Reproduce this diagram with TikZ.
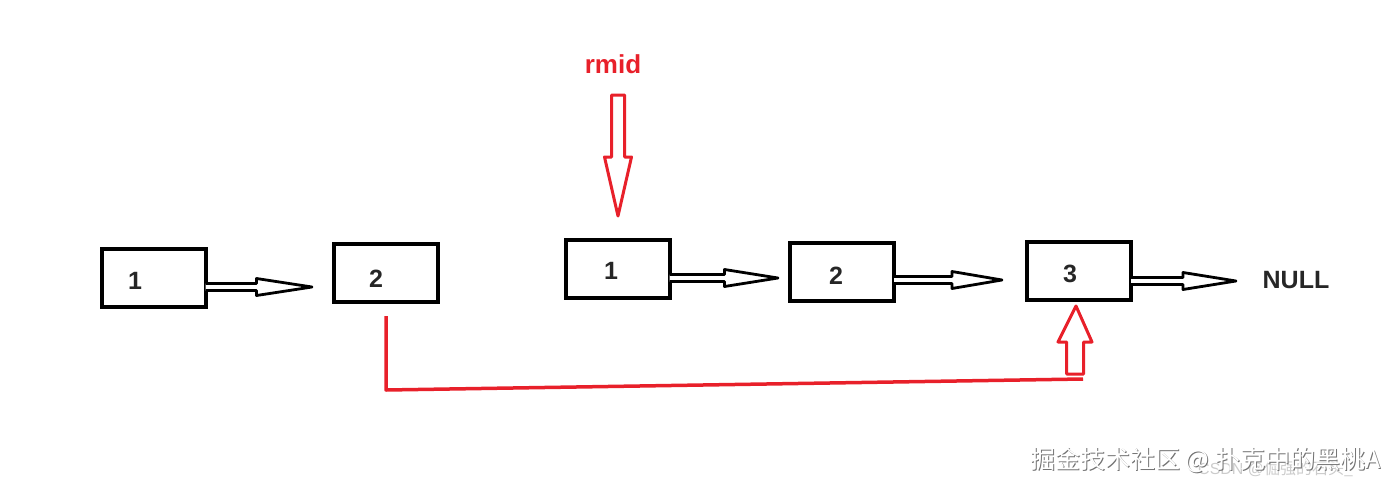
\documentclass[tikz,border=0pt]{standalone}
\usepackage{fontspec}
\setmainfont{Liberation Sans}
\newfontfamily\cjk{Noto Sans CJK SC}
\usetikzlibrary{calc}
\definecolor{myred}{HTML}{E8202A}
\newcommand\harrow[3]{\draw[hol] ($(#1)+(0,-3.5)$) -- ($(#1)+(#2,-3.5)$) -- ($(#1)+(#2,-8.5)$) -- (#3) -- ($(#1)+(#2,8.5)$) -- ($(#1)+(#2,3.5)$) -- ($(#1)+(0,3.5)$);}
\begin{document}
\begin{tikzpicture}[x=1pt,y=-1pt,
 box/.style={draw, line width=4pt, minimum width=104pt, minimum height=58pt, inner sep=0pt, outer sep=0pt},
 num/.style={font=\bfseries\fontsize{25}{27}\selectfont, inner sep=0pt, text=black!85},
 hol/.style={draw, line width=2.8pt, line join=round, fill=white},
 redhol/.style={draw=myred, line width=3pt, line join=round, fill=white},
 redline/.style={draw=myred, line width=3.5pt, line join=round}]
\path[use as bounding box] (0,0) rectangle (1398,490);

% boxes
\node[box] (a1) at (153.5,277.5) {};
\node[box] (a2) at (386,273) {};
\node[box] (b1) at (617.5,269) {};
\node[box] (b2) at (842,271.5) {};
\node[box] (b3) at (1079,271) {};

% numbers
\node[num] (n1) at (135,281) {1};
\node[num] (n2) at (376,279) {2};
\node[num] (n3) at (611,271) {1};
\node[num] (n4) at (836,276) {2};
\node[num] (n5) at (1070,274) {3};
\node[font=\bfseries\fontsize{25}{27}\selectfont, text=black!85, inner sep=0pt] (null) at (1296,280) {NULL};

% hollow black arrows
\coordinate (s1) at (a1.east |- 0,287);
\coordinate (t1) at (312,287);
\harrow{s1}{51}{t1}
\coordinate (s2) at (b1.east |- 0,278);
\coordinate (t2) at (778,278);
\harrow{s2}{55}{t2}
\coordinate (s3) at (b2.east |- 0,280);
\coordinate (t3) at (1002,280);
\harrow{s3}{58}{t3}
\coordinate (s4) at (b3.east |- 0,281);
\coordinate (t4) at (1236,281);
\harrow{s4}{52}{t4}

% rmid
\node[font=\bfseries\fontsize{26}{28}\selectfont, text=myred, inner sep=0pt] (rm) at (613,64) {rmid};
\coordinate (rs) at (618,95);
\coordinate (rt) at (618,216);
\draw[redhol] ($(rs)+(-6.5,0)$) -- ($(rs)+(6.5,0)$) -- ($(rs)+(6.5,62)$) -- ($(rs)+(13.5,62)$) -- (rt) -- ($(rs)+(-13.5,62)$) -- ($(rs)+(-6.5,62)$) -- cycle;

% red connector from a2 to b3
\coordinate (ls) at ($(a2.south)+(0,14)$);
\coordinate (us) at (1075,374);
\coordinate (ut) at (1076,306);
\draw[redline] (ls) -- (386,390) -- (1083,379);
\draw[redhol] ($(us)+(-8.5,0)$) -- ($(us)+(8.5,0)$) -- ($(us)+(8.5,-32)$) -- ($(us)+(17,-32)$) -- (ut) -- ($(us)+(-17,-32)$) -- ($(us)+(-8.5,-32)$) -- cycle;

% watermark
\node[anchor=west, inner sep=0pt, text=black!20, font=\fontsize{16}{18}\selectfont] (wm2) at (1198,469) {CSDN @\cjk 倔强的石头\_};
\node[anchor=west, inner sep=0pt, text=black!55, font=\cjk\fontsize{25}{27}\selectfont] (wm1s) at (1031,461) {掘金技术社区 @ 扑克中的黑桃A};
\node[anchor=west, inner sep=0pt, text=white, font=\cjk\fontsize{25}{27}\selectfont] (wm1) at (1030,460) {掘金技术社区 @ 扑克中的黑桃A};
\end{tikzpicture}
\end{document}
